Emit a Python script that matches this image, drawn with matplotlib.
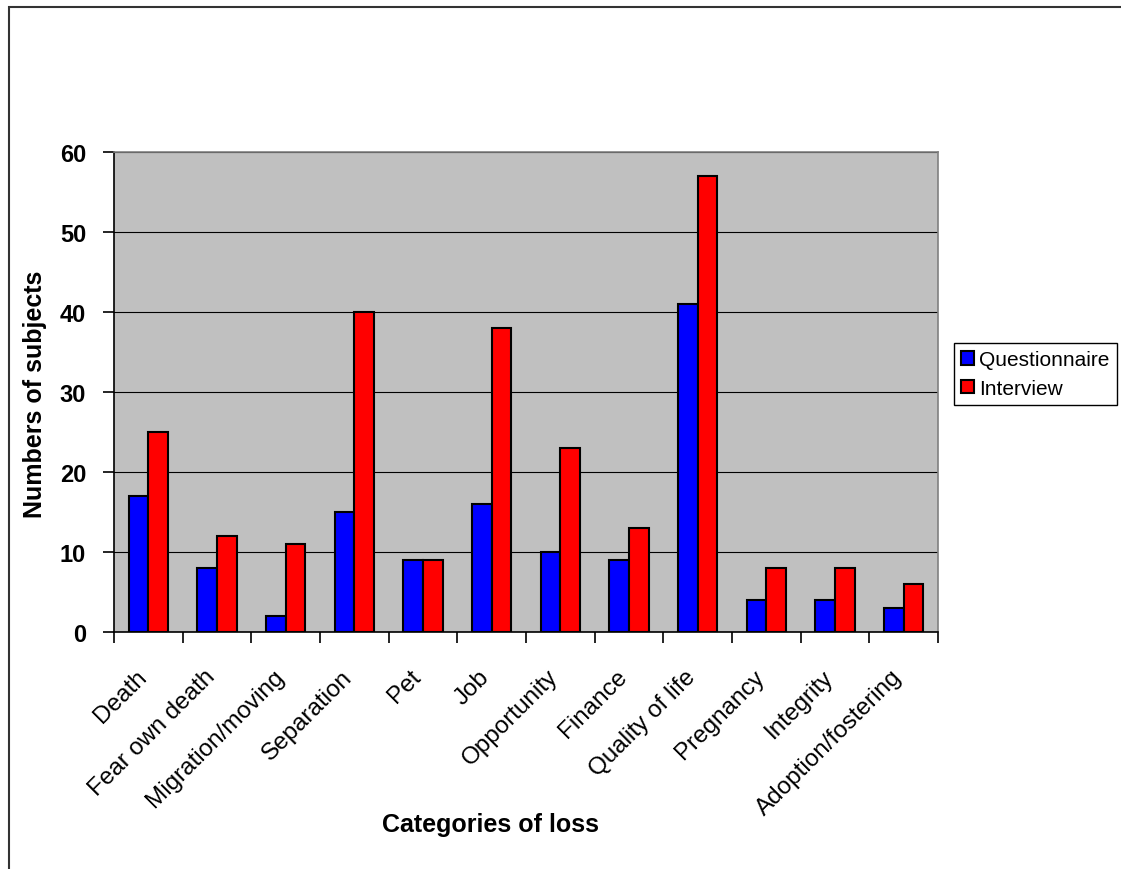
import matplotlib.pyplot as plt
import matplotlib.transforms as mtransforms
import numpy as np
from matplotlib.patches import Rectangle

plt.rcParams['font.family'] = ['Liberation Sans', 'DejaVu Sans']

categories = ['Death', 'Fear own death', 'Migration/moving', 'Separation', 'Pet', 'Job',
              'Opportunity', 'Finance', 'Quality of life', 'Pregnancy', 'Integrity',
              'Adoption/fostering']
questionnaire = [17, 8, 2, 15, 9, 16, 10, 9, 41, 4, 4, 3]
interview = [25, 12, 11, 40, 9, 38, 23, 13, 57, 8, 8, 6]

fig = plt.figure(figsize=(11.21, 8.7), dpi=100)
ax = fig.add_axes([0.1017, 0.2724, 0.7351, 0.5512])

x = np.arange(len(categories))
w = 0.285
ax.bar(x - w / 2, questionnaire, w, color='#0000FF', edgecolor='black', linewidth=1.5,
       label='Questionnaire', zorder=3)
ax.bar(x + w / 2, interview, w, color='#FF0000', edgecolor='black', linewidth=1.5,
       label='Interview', zorder=3)

ax.set_facecolor('#C0C0C0')
ax.set_xlim(-0.5, len(categories) - 0.5)
ax.set_ylim(0, 60)
ax.set_yticks(range(0, 61, 10))
ax.yaxis.grid(True, color='black', linewidth=0.8, zorder=1)
ax.set_axisbelow(True)

ax.set_xticks(np.arange(-0.5, len(categories), 1))
ax.set_xticklabels([])
ax.set_xticks(x, minor=True)
ax.set_xticklabels(categories, minor=True, rotation=45, ha='right', va='top',
                   rotation_mode='anchor', fontsize=17.5)
ax.tick_params(axis='x', which='minor', length=0, pad=24)
ax.tick_params(axis='x', which='major', direction='out', length=8, width=1.2)
ax.tick_params(axis='y', direction='out', length=8, width=1.2, labelsize=17, pad=12)
for lab in ax.get_yticklabels():
    lab.set_fontweight('bold')
shift = mtransforms.ScaledTranslation(-0.13, 0, fig.dpi_scale_trans)
for lab in ax.get_xticklabels(minor=True):
    lab.set_transform(lab.get_transform() + shift)

for side in ['top', 'right']:
    ax.spines[side].set_color('#808080')
    ax.spines[side].set_linewidth(1.2)
for side in ['left', 'bottom']:
    ax.spines[side].set_color('black')
    ax.spines[side].set_linewidth(1.2)

fig.text(35 / 1121, 1 - 394 / 870, 'Numbers of subjects', fontsize=18, fontweight='bold',
         rotation=90, ha='center', va='center')
fig.text(491 / 1121, 1 - 825 / 870, 'Categories of loss', fontsize=18, fontweight='bold',
         ha='center', va='center')

leg = ax.legend(loc='upper left', bbox_to_anchor=(954 / 1121, 1 - 344 / 870),
                bbox_transform=fig.transFigure, borderaxespad=0, fontsize=15,
                handlelength=0.6, handleheight=0.6, handletextpad=0.25,
                labelspacing=0.45, borderpad=0.35, fancybox=False, framealpha=1)
leg.get_frame().set_edgecolor('black')
leg.get_frame().set_linewidth(1.0)

# chart frame
fig.patches.append(Rectangle((9 / 1121, -0.05), 1.2, 1 - 8 / 870 + 0.05,
                             transform=fig.transFigure, fill=False,
                             edgecolor='#333333', linewidth=1.5, clip_on=False))

fig.savefig('out.png', dpi=100)
